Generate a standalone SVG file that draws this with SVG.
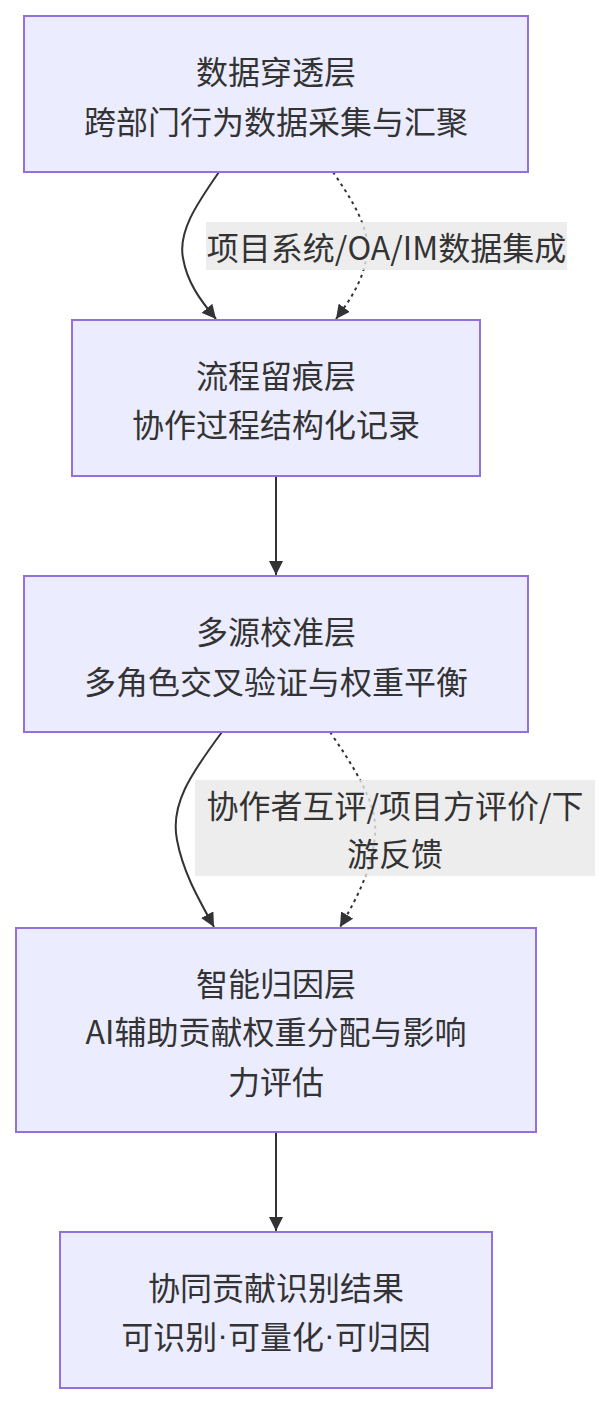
<svg xmlns="http://www.w3.org/2000/svg" width="610" height="1404" viewBox="0 0 610 1404">
<style>
.node rect{fill:#ECECFF;stroke:#9370DB;stroke-width:2}
.t{font-family:"Noto Sans CJK SC","Noto Sans",sans-serif;font-size:32px;fill:#333;text-anchor:middle;dominant-baseline:central}
.dot{font-family:"Liberation Sans",sans-serif}
.e{fill:none;stroke:#333;stroke-width:2}
.d{stroke-dasharray:3,4}
.lb{fill:#e8e8e8;fill-opacity:0.8}
</style>
<defs>
<marker id="ah" viewBox="0 0 10 10" refX="10" refY="5" markerWidth="14" markerHeight="14" markerUnits="userSpaceOnUse" orient="auto">
<path d="M0,0 L10,5 L0,10 z" fill="#333"/>
</marker>
</defs>
<rect width="610" height="1404" fill="#fff"/>
<g id="edges">
<path class="e" d="M219,172 C196,205 178,232 183,258 C187,282 200,300 216,319" marker-end="url(#ah)"/>
<path class="e d" d="M333,172 C352,200 370,228 367,253 C364,280 350,300 336,319" marker-end="url(#ah)"/>
<path class="e" d="M276,476 L276,575" marker-end="url(#ah)"/>
<path class="e" d="M222,732 C190,775 170,805 177,840 C183,872 198,898 214,927" marker-end="url(#ah)"/>
<path class="e d" d="M330,732 C356,770 378,805 375,835 C372,870 356,900 340,927" marker-end="url(#ah)"/>
<path class="e" d="M276,1132 L276,1231" marker-end="url(#ah)"/>
</g>
<g id="edge-labels">
<g id="label1"><rect class="lb" x="206" y="222" width="361" height="48"/><text class="t" x="386.5" y="246">项目系统/OA/IM数据集成</text></g>
<g id="label2"><rect class="lb" x="195" y="780" width="400" height="96"/><text class="t" x="395" y="804">协作者互评/项目方评价/下</text><text class="t" x="395" y="852">游反馈</text></g>
</g>
<g id="n1" class="node"><rect x="24" y="16" width="504" height="156"/><text class="t" x="276" y="70">数据穿透层</text><text class="t" x="276" y="120">跨部门行为数据采集与汇聚</text></g>
<g id="n2" class="node"><rect x="72" y="320" width="408" height="156"/><text class="t" x="276" y="374">流程留痕层</text><text class="t" x="276" y="423">协作过程结构化记录</text></g>
<g id="n3" class="node"><rect x="24" y="576" width="504" height="156"/><text class="t" x="276" y="630">多源校准层</text><text class="t" x="276" y="680">多角色交叉验证与权重平衡</text></g>
<g id="n4" class="node"><rect x="16" y="928" width="520" height="204"/><text class="t" x="276" y="982">智能归因层</text><text class="t" x="276" y="1030">AI辅助贡献权重分配与影响</text><text class="t" x="276" y="1080">力评估</text></g>
<g id="n5" class="node"><rect x="60" y="1232" width="432" height="156"/><text class="t" x="276" y="1286">协同贡献识别结果</text><text class="t" x="276" y="1335">可识别<tspan class="dot">·</tspan>可量化<tspan class="dot">·</tspan>可归因</text></g>
</svg>
